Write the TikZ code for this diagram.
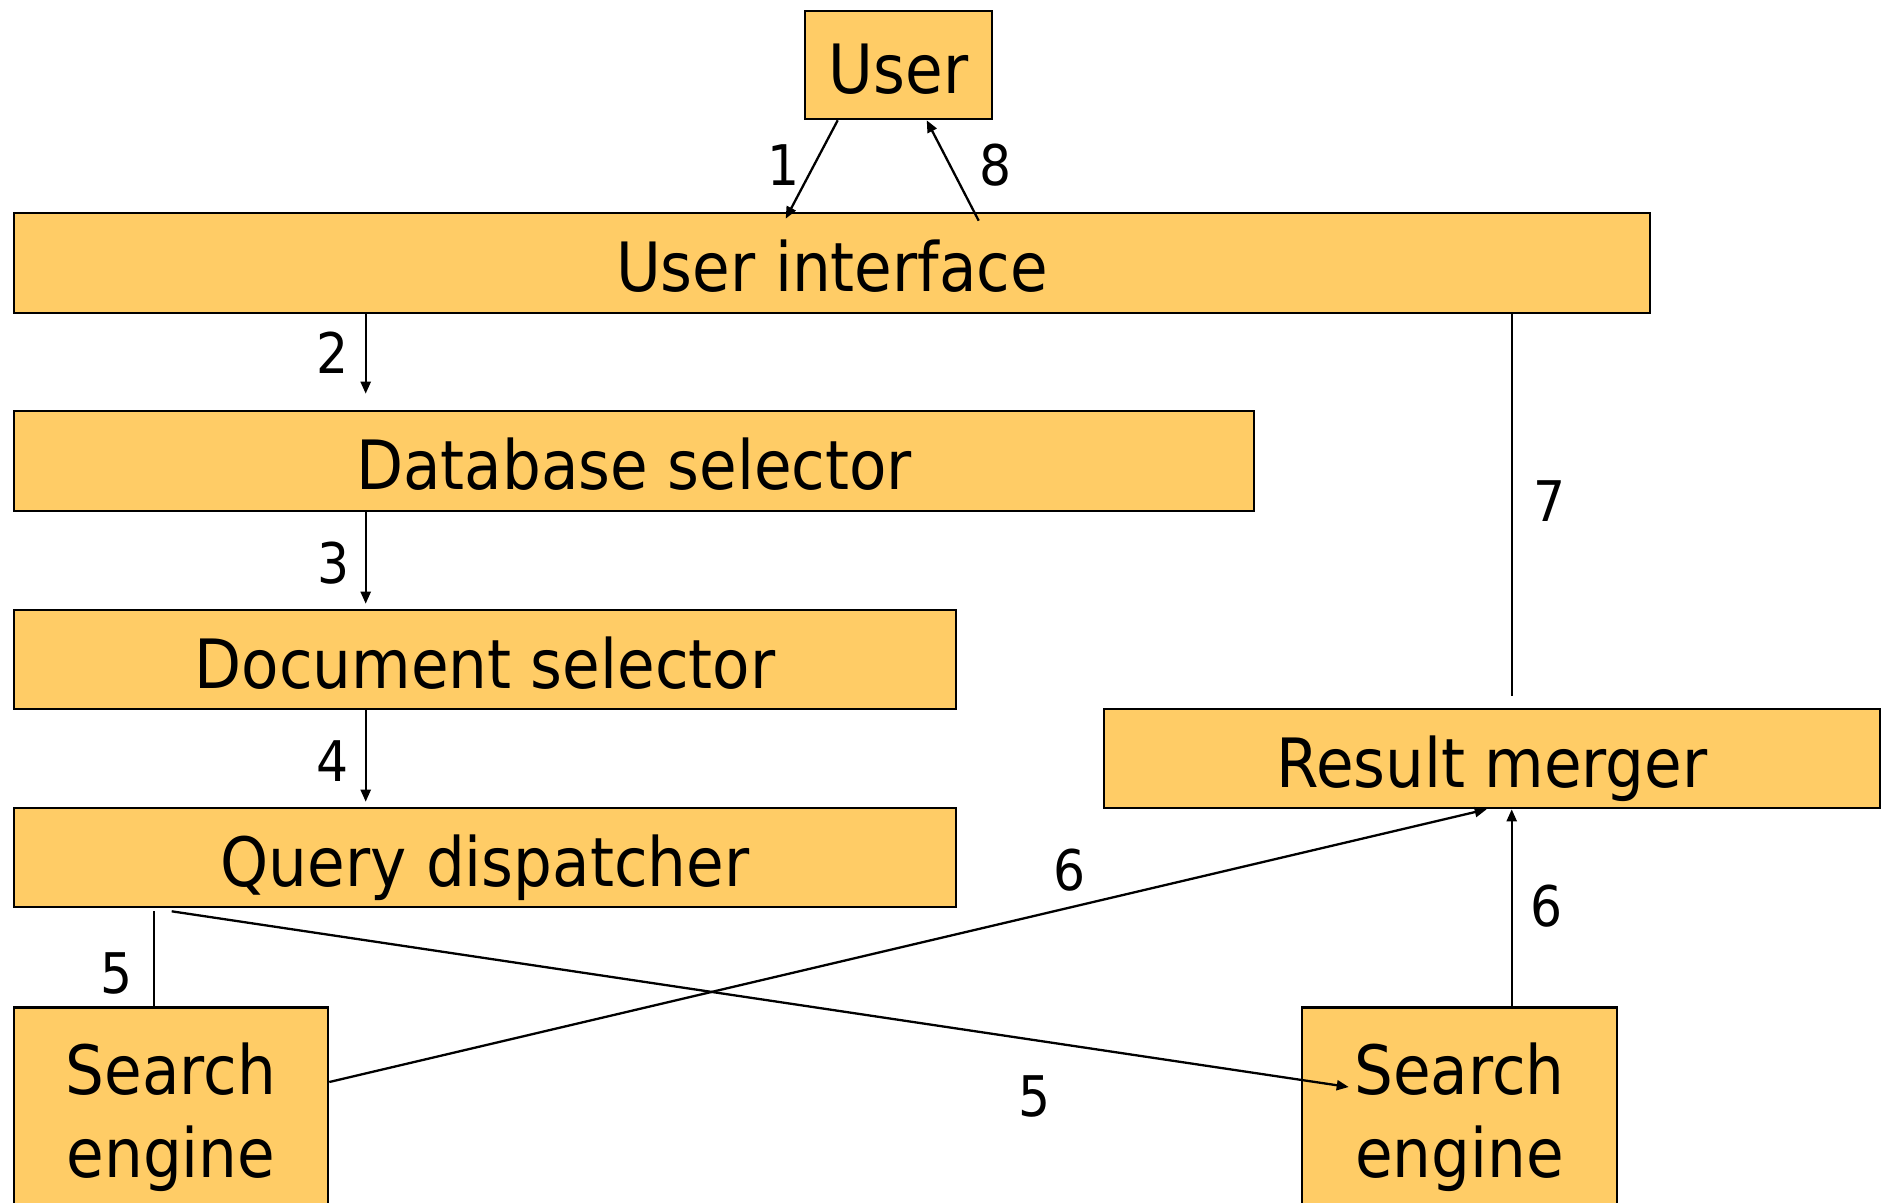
\documentclass[tikz,border=0pt]{standalone}
\usepackage{fontspec}
\setmainfont{DejaVu Sans Condensed}
\usepackage{xcolor}
\usepackage{tikz}
\usetikzlibrary{arrows.meta}
\definecolor{boxfill}{RGB}{255,204,102}
\tikzset{
  sys box/.style={rectangle, draw, fill=boxfill, line width=2.6pt, inner sep=0pt, font=\fontsize{68}{83}\selectfont, text height=62pt, text depth=5pt},
  engine box/.style={rectangle, draw, fill=boxfill, line width=2.6pt, inner sep=0pt, font=\fontsize{68}{83}\selectfont, align=center, anchor=north},
  sys flow/.style={line width=2.3pt, -{Triangle[length=12pt,width=10pt]}},
  sys line/.style={line width=2.3pt},
  step label/.style={inner sep=0pt, font=\fontsize{56}{60}\selectfont}
}

\begin{document}
\begin{tikzpicture}[x=1pt, y=-1pt]
      \useasboundingbox (0,0) rectangle (1881,1202);
      \clip (0,0) rectangle (1881,1202);
      \node[sys box, minimum width=187, minimum height=108] (user) at (898.5,65) {User};
      \node[sys box, minimum width=1636, minimum height=100] (ui) at (832,263) {User interface};
      \node[sys box, minimum width=1240, minimum height=100] (dbsel) at (634,461) {Database selector};
      \node[sys box, minimum width=942, minimum height=99] (docsel) at (485,659.5) {Document selector};
      \node[sys box, minimum width=942, minimum height=99] (qdisp) at (485,857.5) {Query dispatcher};
      \node[sys box, minimum width=776, minimum height=99] (merger) at (1492,758.5) {Result merger};
      \node[engine box, minimum width=314, minimum height=219] (seL) at (171,1006) {Search\\engine};
      \node[engine box, minimum width=315, minimum height=219] (seR) at (1459.5,1006) {Search\\engine};
      \draw[sys flow] ([xshift=34pt]user.south west) -- ([xshift=773pt,yshift=-7pt]ui.north west);
      \draw[sys flow] ([xshift=966pt,yshift=-9pt]ui.north west) -- ([xshift=123pt]user.south west);
      \draw[sys flow] ([xshift=353pt]ui.south west) -- ([xshift=353pt,yshift=16pt]dbsel.north west);
      \draw[sys flow] ([xshift=353pt]dbsel.south west) -- ([xshift=353pt,yshift=5pt]docsel.north west);
      \draw[sys flow] ([xshift=353pt]docsel.south west) -- ([xshift=353pt,yshift=5pt]qdisp.north west);
      \draw[sys line] ([xshift=141pt,yshift=-3pt]qdisp.south west) -- ([xshift=141pt]seL.north west);
      \draw[sys flow] ([xshift=159pt,yshift=-3pt]qdisp.south west) -- ([xshift=48pt,yshift=-81pt]seR.north west);
      \draw[sys flow] ([yshift=-76pt]seL.north east) -- ([xshift=384pt]merger.south west);
      \draw[sys flow] ([xshift=211pt]seR.north west) -- ([xshift=409pt]merger.south west);
      \draw[sys line] ([xshift=1499pt]ui.south west) -- ([xshift=409pt,yshift=12pt]merger.north west);
      \node[step label] (lab1) at (784,165) {1};
      \node[step label] (lab8) at (996,165) {8};
      \node[step label] (lab2) at (333,353) {2};
      \node[step label] (lab3) at (334,563) {3};
      \node[step label] (lab4) at (333,761) {4};
      \node[step label] (lab5a) at (117,973) {5};
      \node[step label] (lab5b) at (1035,1096) {5};
      \node[step label] (lab6a) at (1070,870) {6};
      \node[step label] (lab6b) at (1547,906) {6};
      \node[step label] (lab7) at (1550,501) {7};
    \end{tikzpicture}
\end{document}
